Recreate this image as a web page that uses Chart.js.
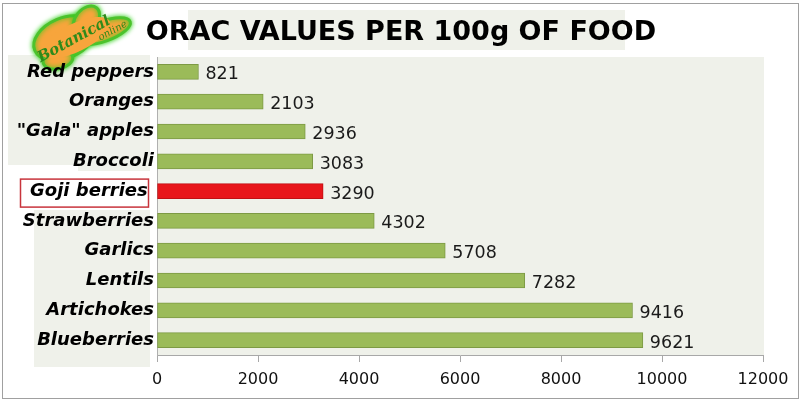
<!DOCTYPE html>
<html>
<head>
<meta charset="utf-8">
<script src="https://cdn.jsdelivr.net/npm/chart.js@4.4.0/dist/chart.umd.min.js"></script>
<style>
  html, body { margin: 0; padding: 0; background: #fff; }
  #wrap { width: 806px; height: 402px; }
</style>
</head>
<body>
<div id="wrap"><canvas id="orac-chart" width="806" height="402"></canvas></div>
<script>
const foods = ['Red peppers', 'Oranges', '"Gala" apples', 'Broccoli', 'Goji berries',
  'Strawberries', 'Garlics', 'Lentils', 'Artichokes', 'Blueberries'];
const oracValues = [821, 2103, 2936, 3083, 3290, 4302, 5708, 7282, 9416, 9621];
const xTicks = [0, 2000, 4000, 6000, 8000, 10000, 12000];
const highlight = 'Goji berries';
const titleText = 'ORAC VALUES PER 100g OF FOOD';

const panelBg = '#eff1ea';

function leaf(ctx, cx, cy, rx, ry, rot) {
  ctx.beginPath();
  ctx.ellipse(cx, cy, rx, ry, rot, 0, Math.PI * 2);
  ctx.fill();
  ctx.stroke();
}

// backgrounds, border, title and logo
const decorPlugin = {
  id: 'decor',
  beforeDraw(chart) {
    const ctx = chart.ctx;
    const area = chart.chartArea;
    ctx.save();
    ctx.fillStyle = '#fff';
    ctx.fillRect(0, 0, chart.width, chart.height);
    ctx.fillStyle = panelBg;
    ctx.fillRect(188, 10, 437, 40);
    ctx.fillRect(area.left, area.top, area.right - area.left + 1, area.bottom - area.top);
    ctx.fillRect(8, 55, 142, 110);
    ctx.fillRect(78, 165, 72, 6);
    ctx.fillRect(34, 210, 116, 157);

    // logo
    ctx.save();
    ctx.translate(78, 34);
    ctx.rotate(-0.5);
    ctx.shadowColor = '#2fcf1a';
    ctx.shadowBlur = 5;
    ctx.fillStyle = '#f7a53c';
    ctx.strokeStyle = '#4cc22c';
    ctx.lineWidth = 3;
    leaf(ctx, -14, -3, 32, 20, 0.1);
    leaf(ctx, 14, -8, 16, 11, -0.4);
    leaf(ctx, 24, 10, 28, 10, 0.15);
    leaf(ctx, -30, 13, 15, 9, 0.3);
    ctx.shadowBlur = 0;
    ctx.fillStyle = '#f7a53c';
    ctx.beginPath();
    ctx.ellipse(-4, 2, 38, 14, 0.05, 0, Math.PI * 2);
    ctx.fill();
    ctx.fillStyle = '#2e8a1a';
    ctx.font = 'italic bold 15px "DejaVu Serif"';
    ctx.textAlign = 'center';
    ctx.textBaseline = 'middle';
    ctx.fillText('Botanical', -6, 3);
    ctx.font = 'italic 10px "DejaVu Serif"';
    ctx.fillText('online', 32, 14);
    ctx.restore();

    ctx.strokeStyle = '#a0a0a0';
    ctx.lineWidth = 1;
    ctx.strokeRect(2.5, 3.5, 796, 395);

    ctx.fillStyle = '#000';
    ctx.font = 'bold 27px "DejaVu Sans"';
    ctx.textAlign = 'center';
    ctx.textBaseline = 'alphabetic';
    ctx.fillText(titleText, 401, 40);
    ctx.restore();
  },
  afterDatasetsDraw(chart) {
    const ctx = chart.ctx;
    const meta = chart.getDatasetMeta(0);
    ctx.save();
    ctx.fillStyle = '#1a1a1a';
    ctx.font = '17.5px "DejaVu Sans"';
    ctx.textAlign = 'left';
    ctx.textBaseline = 'middle';
    meta.data.forEach((bar, i) => {
      ctx.fillText(String(oracValues[i]), bar.x + 7, bar.y + 3);
    });
    // box round the highlighted label
    const idx = foods.indexOf(highlight);
    const y = chart.scales.y.getPixelForValue(idx);
    ctx.strokeStyle = '#c8343c';
    ctx.lineWidth = 1.5;
    ctx.strokeRect(20.5, y - 12, 128, 28);
    ctx.restore();
  }
};

const ctx = document.getElementById('orac-chart').getContext('2d');
const chart = new Chart(ctx, {
  type: 'bar',
  data: {
    labels: foods,
    datasets: [{
      data: oracValues,
      backgroundColor: foods.map(f => f === highlight ? '#e8161b' : '#9bbb59'),
      borderColor: foods.map(f => f === highlight ? '#c01014' : '#7d9a44'),
      borderWidth: 1,
      borderSkipped: false,
      barThickness: 15
    }]
  },
  options: {
    indexAxis: 'y',
    responsive: false,
    animation: false,
    layout: { padding: { top: 57, right: 43, left: 0, bottom: 0 } },
    plugins: {
      legend: { display: false },
      tooltip: { enabled: false }
    },
    scales: {
      x: {
        min: 0,
        max: 12000,
        afterBuildTicks(scale) {
          scale.ticks = xTicks.map(v => ({ value: v }));
        },
        afterFit(scale) { scale.height = 47; },
        grid: { drawOnChartArea: false, drawTicks: true, tickLength: 7, color: '#a8a8a8' },
        border: { display: true, color: '#a8a8a8' },
        ticks: {
          color: '#111',
          font: { family: 'DejaVu Sans', size: 16 },
          padding: 8,
          callback: v => String(v)
        }
      },
      y: {
        afterFit(scale) { scale.width = 157; },
        grid: { display: false, drawTicks: false },
        border: { display: true, color: '#b0b0b0' },
        ticks: {
          color: '#000',
          padding: 3,
          font: { family: 'DejaVu Sans', size: 18, weight: 'bold', style: 'italic' },
          callback(value) {
            const name = this.getLabelForValue(value);
            return name === highlight ? name + ' ' : name;
          }
        }
      }
    }
  },
  plugins: [decorPlugin]
});
</script>
</body>
</html>
